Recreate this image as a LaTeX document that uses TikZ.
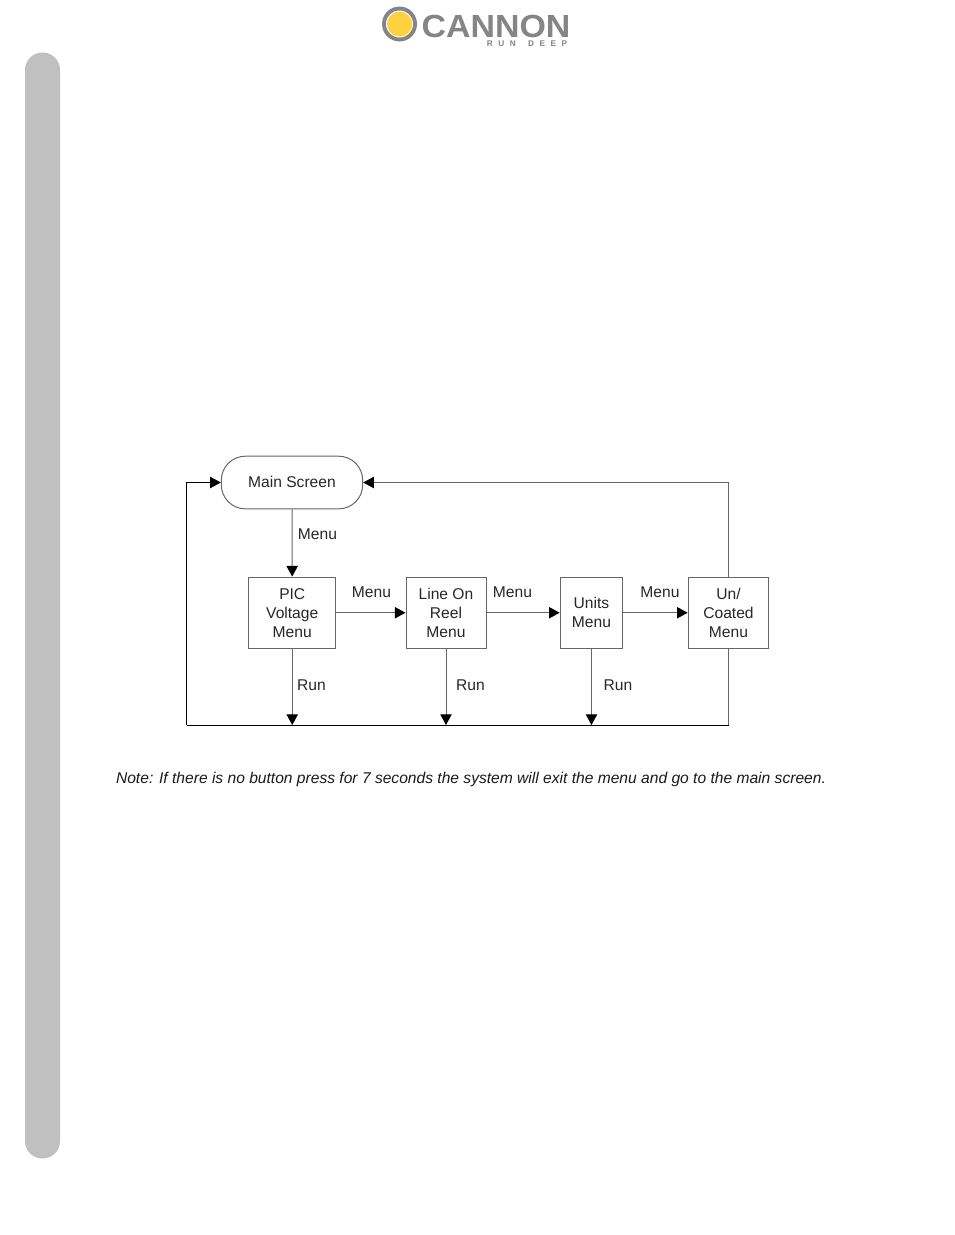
\documentclass[tikz,border=0pt]{standalone}
\usepackage{fontspec}
\setmainfont{Liberation Sans}
\usetikzlibrary{arrows.meta}
\definecolor{linegray}{HTML}{666666}
\definecolor{barsilver}{HTML}{C0C0C0}
\definecolor{logogray}{HTML}{858585}
\definecolor{logoyellow}{HTML}{FFD040}
\tikzset{
  menubox/.style={draw=linegray, line width=.75pt, align=center, inner sep=0pt, minimum height=53.5pt, text=black!85, font=\fontsize{11.7}{14.25}\selectfont},
  flow/.style={draw=linegray, line width=.75pt, -{Triangle[length=8pt,width=8.5pt,black]}},
  plainline/.style={draw=linegray, line width=.75pt},
  busline/.style={draw=black, line width=.75pt},
  edgelabel/.style={inner sep=0pt, text=black!85, font=\fontsize{11.7}{14.25}\selectfont},
}
\begin{document}
\begin{tikzpicture}[x=.75pt,y=-.75pt]
\useasboundingbox (0,0) rectangle (954,1235);
% side bar
\fill[barsilver, rounded corners=13pt] (25,52.5) rectangle (60,1158.5);
% logo
\fill[logogray] (399.5,24) circle (17.5);
\fill[white] (399.5,24) circle (13.5);
\fill[logoyellow] (399.5,24) circle (12.5);
\node[inner sep=0pt, text=logogray, xscale=1.06, text depth=0pt, text height=17pt, font=\fontsize{24}{24}\bfseries\selectfont] (brand) at (496,26.5) {CANNON};
\node[inner sep=0pt, text=logogray, font=\fontsize{6.2}{7}\bfseries\selectfont] (motto) at (527,44) {R\,\,\,\,U\,\,\,\,N\,\,\,\,\,\,\,\,\,D\,\,\,\,E\,\,\,\,E\,\,\,\,P};
% boxes
\node[menubox, rounded corners=18pt, minimum width=106pt, minimum height=39.5pt] (main) at (292,482.5) {\raisebox{1pt}{Main Screen}};
\node[menubox, minimum width=65.5pt] (pic) at (292.25,612.75) {PIC\\Voltage\\Menu};
\node[menubox, minimum width=60pt] (line) at (446,612.75) {Line On\\Reel\\Menu};
\node[menubox, minimum width=47pt] (units) at (591.5,612.75) {Units\\Menu};
\node[menubox, minimum width=60.5pt] (coated) at (728.5,612.75) {Un/\\Coated\\Menu};
% bus along the bottom
\coordinate (busleft) at (186.5,725);
\coordinate (busright) at (728.5,725);
\coordinate (buspic) at (292.25,725);
\coordinate (busline) at (446,725);
\coordinate (busunits) at (591.5,725);
% arrows
\draw[flow] (main) -- (pic);
\draw[flow] (pic) -- (line);
\draw[flow] (line) -- (units);
\draw[flow] (units) -- (coated);
\draw[flow] (pic) -- (buspic);
\draw[flow] (line) -- (busline);
\draw[flow] (units) -- (busunits);
\draw[flow] (coated.north) |- (main.east);
\draw[plainline] (coated.south) -- (busright);
\draw[busline] (busright) -- (busleft);
\draw[busline, -{Triangle[length=8pt,width=8.5pt,black]}] (busleft) |- (main.west);
% labels
\node[edgelabel] (menua) at (317.5,534) {Menu};
\node[edgelabel] (menub) at (371.5,592) {Menu};
\node[edgelabel] (menuc) at (512.5,592) {Menu};
\node[edgelabel] (menud) at (660,592) {Menu};
\node[edgelabel] (runa) at (311.5,685) {Run};
\node[edgelabel] (runb) at (470.5,685) {Run};
\node[edgelabel] (runc) at (618,685) {Run};
\node[inner sep=0pt, text=black!90, font=\fontsize{11.7}{14}\itshape\selectfont] (note) at (471,779) {Note: If there is no button press for 7 seconds the system will exit the menu and go to the main screen.};
\end{tikzpicture}
\end{document}
